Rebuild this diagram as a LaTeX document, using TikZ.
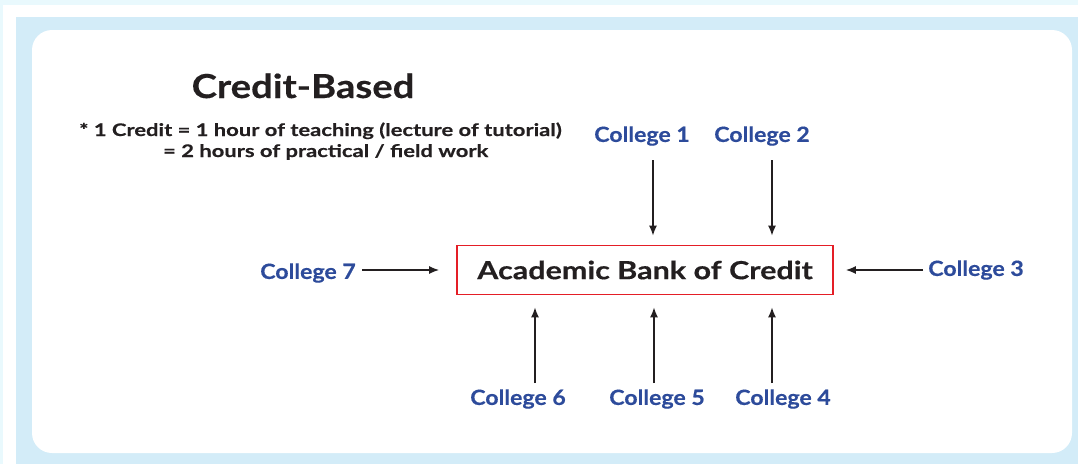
\documentclass[tikz,border=0pt]{standalone}
\usepackage{fontspec}
\setmainfont{Lato}
\newfontfamily\titlefont[FakeStretch=1.16,FakeBold=0.4]{Lato}
\newfontfamily\notefont[FakeStretch=1.27,FakeBold=0.4]{Lato}
\newfontfamily\boxfont[FakeStretch=1.22,FakeBold=0.4]{Lato}
\newfontfamily\collfont[FakeStretch=1.1,FakeBold=0.4]{Lato}
\usetikzlibrary{arrows.meta}
\definecolor{panelblue}{HTML}{D3ECF8}
\definecolor{edgecyan}{HTML}{E9F9FD}
\definecolor{collblue}{HTML}{2D4B9B}
\definecolor{boxred}{HTML}{E41E26}
\definecolor{inkdark}{HTML}{231F20}
\tikzset{
  college/.style={text=collblue, font=\collfont\fontsize{21}{24}\selectfont\bfseries, inner sep=0pt},
  arr/.style={draw=inkdark, line width=1.4pt, -{Latex[length=10pt,width=8pt]}},
  bankbox/.style={draw=boxred, line width=1.8pt, minimum width=376pt, minimum height=49pt, inner sep=0pt,
    text=inkdark, font=\boxfont\fontsize{25}{30}\selectfont\bfseries},
  note/.style={text=inkdark, font=\notefont\fontsize{17.3}{20}\selectfont\bfseries, inner sep=0pt, anchor=base west},
}
\begin{document}
\begin{tikzpicture}[x=1pt,y=-1pt]
\useasboundingbox (0,0) rectangle (1078,464);
% backgrounds
\fill[edgecyan] (0,0) rectangle (1078,464);
\fill[white] (3,5) rectangle (1078,464);
\fill[panelblue] (16,17) rectangle (1078,464);
\fill[white, rounded corners=20pt] (32,30) rectangle (1072,453);
% title and notes
\node[text=inkdark, font=\titlefont\fontsize{33}{38}\selectfont\bfseries, inner sep=0pt, anchor=base] (title) at (303,98) {Credit-Based};
\node[note] (n1) at (79,136) {* 1 Credit = 1 hour of teaching (lecture of tutorial)};
\node[note] (n2) at (163,157) {= 2 hours of practical / field work};
% central box
\node[bankbox] (abc) at (645,270) {Academic Bank of Credit};
% colleges
\node[college] (c1) at (642,136) {College 1};
\node[college] (c2) at (762,136) {College 2};
\node[college] (c3) at (976,270) {College 3};
\node[college] (c4) at (783,399) {College 4};
\node[college] (c5) at (657,399) {College 5};
\node[college] (c6) at (518,399) {College 6};
\node[college] (c7) at (308,273) {College 7};
% arrow start points
\coordinate (s1) at (653,160);
\coordinate (s2) at (772,160);
\coordinate (s4) at (772,383);
\coordinate (s5) at (654,383);
\coordinate (s6) at (535,383);
\coordinate (s3) at (923,270);
\coordinate (s7) at (362,270);
\draw[arr, shorten >=9pt] (s1) -- (s1 |- abc.north);
\draw[arr, shorten >=9pt] (s2) -- (s2 |- abc.north);
\draw[arr, shorten >=12pt] (s4) -- (s4 |- abc.south);
\draw[arr, shorten >=12pt] (s5) -- (s5 |- abc.south);
\draw[arr, shorten >=12pt] (s6) -- (s6 |- abc.south);
\draw[arr, shorten >=12pt] (s3) -- (s3 -| abc.east);
\draw[arr, shorten >=17pt] (s7) -- (s7 -| abc.west);
\end{tikzpicture}
\end{document}
